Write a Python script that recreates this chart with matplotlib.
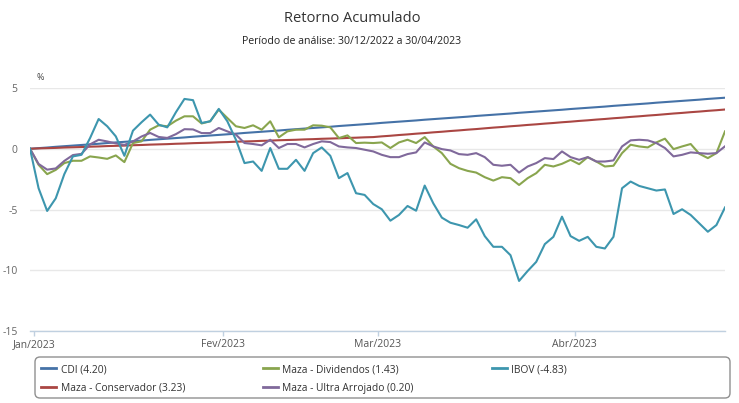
import matplotlib
matplotlib.use("Agg")
import matplotlib.pyplot as plt
import numpy as np
from matplotlib.patches import FancyBboxPatch
from matplotlib.lines import Line2D
from matplotlib.transforms import IdentityTransform

plt.rcParams['font.family'] = ['Open Sans', 'DejaVu Sans']

# retorno acumulado (%) por pregao, 30/12/2022 .. 28/04/2023
cdi = [0.00, 0.05, 0.10, 0.16, 0.21, 0.26, 0.31, 0.36, 0.41, 0.47,
       0.52, 0.57, 0.62, 0.67, 0.73, 0.78, 0.83, 0.88, 0.93, 0.99,
       1.04, 1.09, 1.14, 1.19, 1.24, 1.30, 1.35, 1.40, 1.45, 1.50,
       1.56, 1.61, 1.66, 1.71, 1.76, 1.81, 1.87, 1.92, 1.97, 2.02,
       2.07, 2.13, 2.18, 2.23, 2.28, 2.33, 2.39, 2.44, 2.49, 2.54,
       2.59, 2.64, 2.70, 2.75, 2.80, 2.85, 2.90, 2.96, 3.01, 3.06,
       3.11, 3.16, 3.21, 3.27, 3.32, 3.37, 3.42, 3.47, 3.53, 3.58,
       3.63, 3.68, 3.73, 3.79, 3.84, 3.89, 3.94, 3.99, 4.04, 4.10,
       4.15, 4.20]
conservador = [0.00, 0.03, 0.05, 0.07, 0.10, 0.12, 0.14, 0.17, 0.19, 0.22,
               0.24, 0.26, 0.29, 0.31, 0.34, 0.36, 0.38, 0.41, 0.43, 0.46,
               0.48, 0.50, 0.53, 0.55, 0.58, 0.60, 0.62, 0.65, 0.67, 0.70,
               0.72, 0.74, 0.77, 0.79, 0.82, 0.84, 0.86, 0.89, 0.91, 0.94,
               0.96, 1.02, 1.07, 1.13, 1.18, 1.24, 1.29, 1.35, 1.40, 1.46,
               1.51, 1.57, 1.62, 1.68, 1.74, 1.79, 1.85, 1.90, 1.96, 2.01,
               2.07, 2.12, 2.18, 2.23, 2.29, 2.34, 2.40, 2.45, 2.51, 2.56,
               2.62, 2.67, 2.73, 2.78, 2.84, 2.90, 2.95, 3.01, 3.06, 3.12,
               3.17, 3.23]
dividendos = [0.00, -1.32, -2.09, -1.74, -1.18, -0.99, -0.99, -0.63, -0.72, -0.83,
              -0.55, -1.10, 0.47, 0.61, 1.57, 1.93, 1.85, 2.31, 2.67, 2.67,
              2.08, 2.26, 3.22, 2.53, 1.85, 1.71, 1.93, 1.57, 2.26, 0.94,
              1.43, 1.57, 1.57, 1.93, 1.90, 1.76, 0.88, 1.10, 0.47, 0.50,
              0.47, 0.52, 0.06, 0.52, 0.74, 0.47, 0.96, 0.19, -0.36, -1.24,
              -1.60, -1.82, -1.96, -2.34, -2.62, -2.34, -2.42, -2.98, -2.42, -2.01,
              -1.32, -1.46, -1.24, -0.91, -1.27, -0.69, -1.05, -1.46, -1.40, -0.36,
              0.33, 0.19, 0.11, 0.52, 0.83, -0.03, 0.19, 0.39, -0.41, -0.77,
              -0.36, 1.43]
ultra = [0.00, -1.25, -1.72, -1.62, -1.00, -0.52, -0.42, 0.36, 0.74, 0.60,
         0.44, 0.32, 0.60, 1.01, 1.30, 0.97, 0.89, 1.20, 1.61, 1.59,
         1.29, 1.29, 1.71, 1.43, 1.16, 0.47, 0.39, 0.28, 0.74, 0.06,
         0.39, 0.39, 0.11, 0.39, 0.61, 0.55, 0.19, 0.11, 0.06, -0.08,
         -0.22, -0.50, -0.69, -0.69, -0.44, -0.30, 0.52, 0.19, -0.03, -0.14,
         -0.44, -0.50, -0.36, -0.69, -1.32, -1.40, -1.32, -1.96, -1.46, -1.18,
         -0.77, -0.85, -0.22, -0.69, -0.91, -0.69, -1.05, -1.05, -0.96, 0.19,
         0.69, 0.74, 0.69, 0.47, 0.06, -0.63, -0.50, -0.30, -0.36, -0.41,
         -0.36, 0.20]
ibov = [0.00, -3.25, -5.12, -4.08, -2.09, -0.63, -0.50, 0.88, 2.45, 1.85,
        1.02, -0.58, 1.49, 2.18, 2.81, 1.98, 1.76, 3.00, 4.10, 4.00,
        2.12, 2.26, 3.28, 2.26, 0.74, -1.18, -1.05, -1.82, 0.06, -1.65,
        -1.65, -0.91, -1.82, -0.36, 0.11, -0.58, -2.42, -2.00, -3.66, -3.80,
        -4.55, -4.98, -5.92, -5.45, -4.71, -5.10, -3.03, -4.49, -5.67, -6.09,
        -6.28, -6.50, -5.81, -7.19, -8.07, -8.07, -8.76, -10.88, -10.06, -9.31,
        -7.85, -7.25, -5.59, -7.19, -7.58, -7.25, -8.07, -8.21, -7.25, -3.25,
        -2.70, -3.06, -3.25, -3.44, -3.35, -5.37, -4.98, -5.45, -6.14, -6.83,
        -6.28, -4.83]

series_names = ['CDI', 'Maza - Conservador', 'Maza - Dividendos',
                'Maza - Ultra Arrojado', 'IBOV']
month_labels = ['Jan/2023', 'Fev/2023', 'Mar/2023', 'Abr/2023']
month_pos = [0.5, 22.5, 40.5, 63.5]  # entre o ultimo e o primeiro pregao de cada mes
y_ticks = [-15, -10, -5, 0, 5]

colors = ['#4572A7', '#AA4643', '#89A54E', '#80699B', '#3D96AE']
all_series = [cdi, conservador, dividendos, ultra, ibov]

fig = plt.figure(figsize=(7.39, 4.03), dpi=100)
ax = fig.add_axes([30/739, 72/403, 695/739, 243/403])

x = np.arange(len(cdi))
lines = []
for vals, name, c in zip(all_series, series_names, colors):
    ln, = ax.plot(x, vals, color=c, lw=1.5, label='%s (%.2f)' % (name, vals[-1]))
    lines.append(ln)

ax.set_xlim(0, len(cdi) - 1)
ax.set_ylim(-15, 5)
ax.set_yticks(y_ticks)
ax.set_yticklabels([str(v) for v in y_ticks])
ax.yaxis.grid(True, color='#e8e8e8', lw=1)
ax.set_axisbelow(True)
ax.tick_params(axis='y', length=0, pad=9, labelsize=7.5, labelcolor='#666666')
ax.set_xticks(month_pos)
ax.set_xticklabels(month_labels)
ax.tick_params(axis='x', length=3.6, width=1, color='#C0D0E0', pad=2,
               labelsize=7.5, labelcolor='#555555')
for s in ['top', 'right', 'left']:
    ax.spines[s].set_visible(False)
ax.spines['bottom'].set_color('#C0D0E0')
ax.spines['bottom'].set_linewidth(1)

fig.text(40/739, 1 - 78/403, '%', fontsize=6.5, color='#444444', ha='center', va='center')
fig.text(352/739, 1 - 18/403, 'Retorno Acumulado', fontsize=10.5, color='#333333',
         ha='center', va='center')
fig.text(352/739, 1 - 41/403, 'Período de análise: 30/12/2022 a 30/04/2023',
         fontsize=7.6, color='#222222', ha='center', va='center')

# caixa da legenda
frame = FancyBboxPatch((35, 5), 695, 41, boxstyle='round,pad=0,rounding_size=5',
                       fc='white', ec='#909090', lw=1, transform=IdentityTransform())
fig.add_artist(frame)

handles = [Line2D([], [], color=c, lw=2) for c in colors]
labels = [ln.get_label() for ln in lines]
leg = fig.legend(handles, labels, ncol=3, mode='expand', loc='upper left',
                 bbox_to_anchor=(41/739, 0, 526/739, 1 - 364/403),
                 frameon=False, fontsize=7.4, handlelength=1.5, handletextpad=0.4,
                 labelspacing=0.75, borderpad=0, borderaxespad=0)
for t in leg.get_texts():
    t.set_color('#333333')

fig.savefig('out.png', dpi=100)
